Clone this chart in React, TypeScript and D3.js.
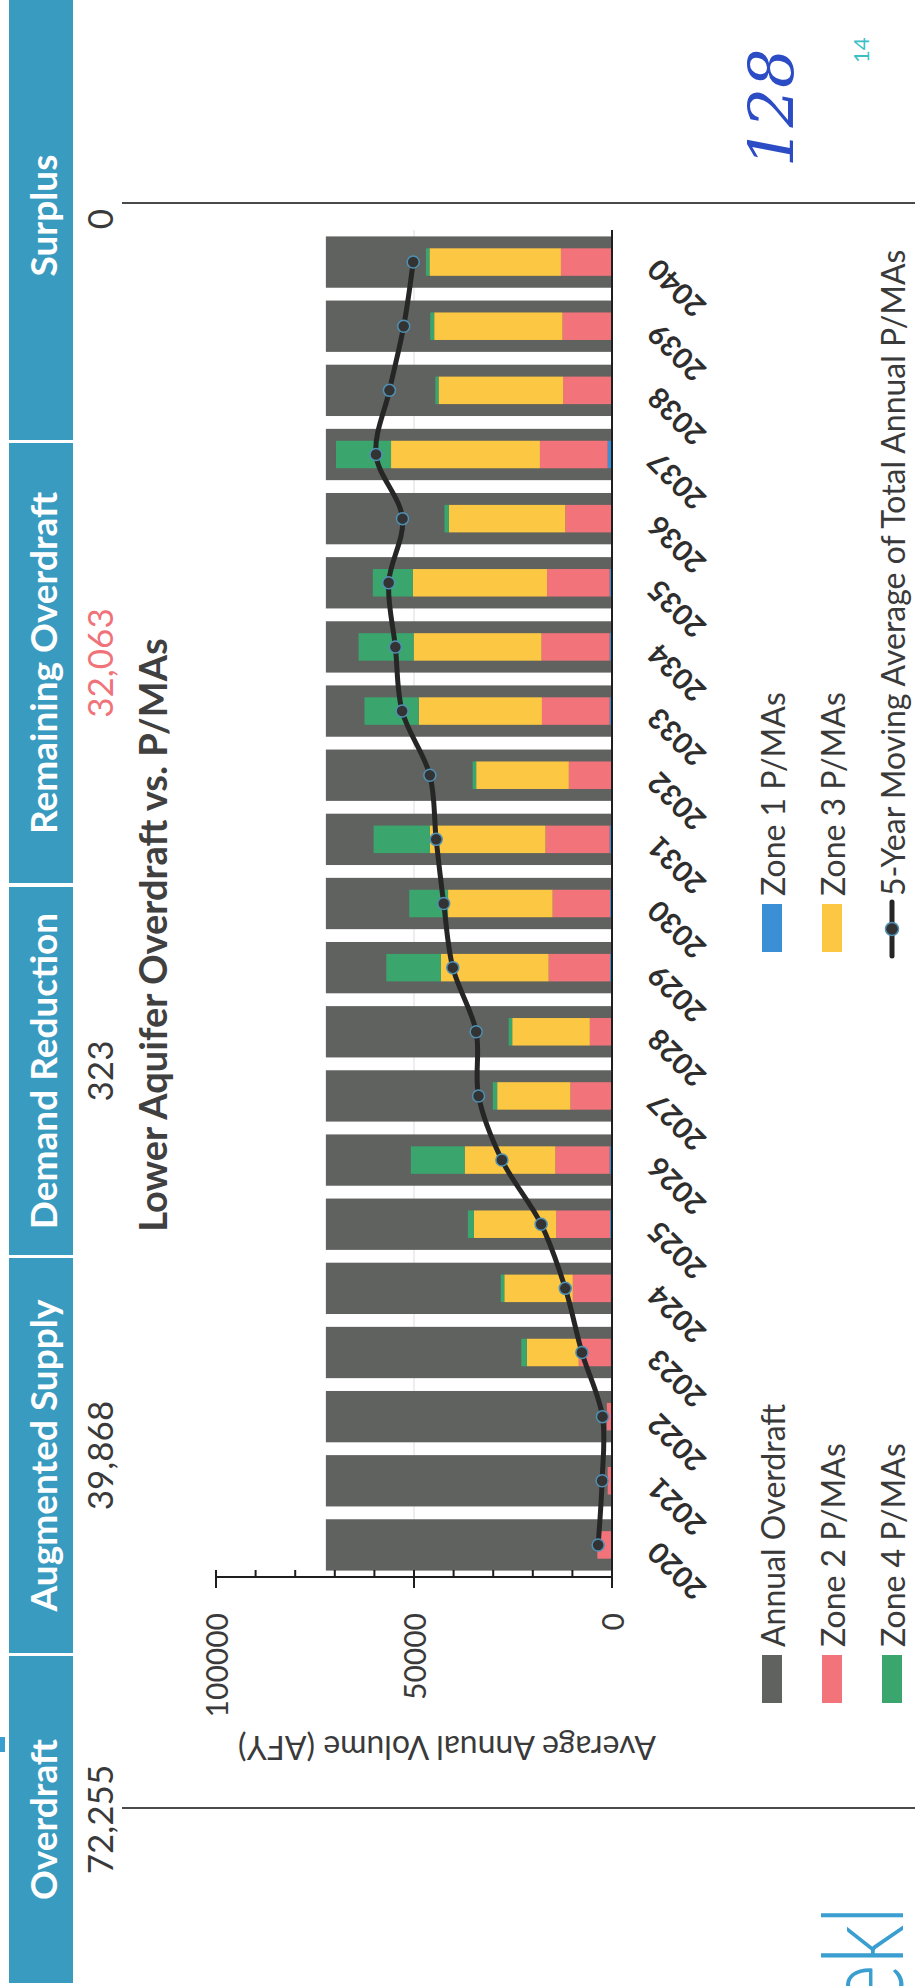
import { useEffect, useRef } from 'react';
import * as d3 from 'd3';

// page is scanned sideways: everything is drawn in an upright frame and then rotated -90deg
const PAGE_W = 1986;
const PAGE_H = 915;

const headerLabels = ['Overdraft', 'Augmented Supply', 'Demand Reduction', 'Remaining Overdraft', 'Surplus'];
const headerValues = ['72,255', '39,868', '323', '32,063', '0'];

const years = ['2020', '2021', '2022', '2023', '2024', '2025', '2026', '2027', '2028', '2029', '2030',
    '2031', '2032', '2033', '2034', '2035', '2036', '2037', '2038', '2039', '2040'];

const annualOverdraft = [72255, 72255, 72255, 72255, 72255, 72255, 72255, 72255, 72255, 72255, 72255,
    72255, 72255, 72255, 72255, 72255, 72255, 72255, 72255, 72255, 72255];
const zone1 = [0, 0, 0, 300, 300, 500, 600, 0, 0, 500, 500, 600, 0, 600, 600, 600, 0, 1100, 0, 0, 0];
const zone2 = [3700, 1100, 1300, 8100, 9600, 13600, 13700, 10500, 5600, 15500, 14500,
    16200, 10900, 17100, 17200, 15800, 11800, 17100, 12300, 12500, 12900];
const zone3 = [0, 0, 0, 13100, 17300, 20800, 22900, 18500, 19600, 27200, 26400,
    29200, 23400, 31100, 32300, 33900, 29400, 37600, 31500, 32400, 33200];
const zone4 = [0, 0, 0, 1400, 900, 1500, 13600, 1100, 900, 13800, 9800,
    14200, 900, 13700, 13900, 10100, 1100, 13900, 800, 1000, 900];
const movingAvg = [3500, 2500, 2400, 7600, 11800, 17900, 27800, 33700, 34300, 40200, 42500,
    44400, 46000, 53000, 54700, 56400, 52900, 59600, 56200, 52600, 50200];

const yTicks = [0, 50000, 100000];

const COLORS = {
    overdraft: '#5f625e',
    zone1: '#3b8fd4',
    zone2: '#f2737a',
    zone3: '#fcc843',
    zone4: '#3aa66e',
    header: '#3a9bc1',
    line: '#262626',
};

const FONT = "Lato, 'Open Sans', sans-serif";

const App = () => {
    const svgRef = useRef<SVGSVGElement>(null);

    useEffect(() => {
        const svg = d3.select(svgRef.current);
        svg.selectAll('*').remove();

        const g = svg.append('g')
            .attr('transform', `translate(0,${PAGE_W}) rotate(-90)`)
            .style('font-family', FONT);

        // header strip
        const boxes = [[3, 330], [333, 728], [731, 1099], [1103, 1543], [1546, 1995]];
        boxes.forEach(([a, b], i) => {
            g.append('rect')
                .attr('x', a).attr('y', 9)
                .attr('width', b - a).attr('height', 64)
                .attr('fill', COLORS.header);
            g.append('text')
                .attr('x', (a + b) / 2).attr('y', 42)
                .attr('text-anchor', 'middle')
                .attr('dominant-baseline', 'central')
                .attr('fill', '#fff')
                .style('font-size', '37px')
                .style('font-weight', '700')
                .text(headerLabels[i]);
            g.append('text')
                .attr('x', i === 4 ? 1767 : (a + b) / 2).attr('y', 99)
                .attr('text-anchor', 'middle')
                .attr('dominant-baseline', 'central')
                .attr('fill', i === 3 ? '#f0737a' : '#3a3a3a')
                .style('font-size', '35px')
                .text(headerValues[i]);
        });

        // separator lines
        [178, 1783].forEach(x => {
            g.append('line')
                .attr('x1', x).attr('x2', x)
                .attr('y1', 122).attr('y2', PAGE_H)
                .attr('stroke', '#4a4a4a')
                .attr('stroke-width', 2);
        });

        // chart title
        g.append('text')
            .attr('x', 1051).attr('y', 152)
            .attr('text-anchor', 'middle')
            .attr('dominant-baseline', 'central')
            .attr('fill', '#404040')
            .style('font-size', '38px')
            .style('font-weight', '700')
            .text('Lower Aquifer Overdraft vs. P/MAs');

        const x = d3.scaleBand()
            .domain(years)
            .range([409, 1756])
            .paddingInner(0.2)
            .paddingOuter(0.1);

        const y = d3.scaleLinear()
            .domain([0, 100000])
            .range([612, 216]);

        const cx = (d: string) => (x(d) ?? 0) + x.bandwidth() / 2;

        // gridline
        g.append('line')
            .attr('x1', 409).attr('x2', 1756)
            .attr('y1', y(50000)).attr('y2', y(50000))
            .attr('stroke', '#dcdcdc')
            .attr('stroke-width', 1);

        // annual overdraft bars
        g.append('g').selectAll('rect')
            .data(years)
            .join('rect')
            .attr('x', d => x(d) ?? 0)
            .attr('width', x.bandwidth())
            .attr('y', (d, i) => y(annualOverdraft[i]))
            .attr('height', (d, i) => y(0) - y(annualOverdraft[i]))
            .attr('fill', COLORS.overdraft);

        // stacked P/MA bars
        const table = years.map((yr, i) => ({
            year: yr, zone1: zone1[i], zone2: zone2[i], zone3: zone3[i], zone4: zone4[i],
        }));
        const keys = ['zone1', 'zone2', 'zone3', 'zone4'] as const;
        const stacked = d3.stack<any>().keys(keys as any)(table);
        const innerW = 27.5;

        stacked.forEach(layer => {
            g.append('g').selectAll('rect')
                .data(layer)
                .join('rect')
                .attr('x', d => cx(d.data.year) - innerW / 2)
                .attr('width', innerW)
                .attr('y', d => y(d[1]))
                .attr('height', d => Math.max(0, y(d[0]) - y(d[1])))
                .attr('fill', (COLORS as any)[layer.key]);
        });

        // category axis line
        g.append('line')
            .attr('x1', 398).attr('x2', 1756)
            .attr('y1', y(0)).attr('y2', y(0))
            .attr('stroke', '#1e1e1e')
            .attr('stroke-width', 2);

        // value axis
        g.append('line')
            .attr('x1', 409).attr('x2', 409)
            .attr('y1', y(100000)).attr('y2', y(0))
            .attr('stroke', '#1e1e1e')
            .attr('stroke-width', 2);

        d3.range(0, 100001, 10000).forEach(v => {
            const major = v % 50000 === 0;
            g.append('line')
                .attr('x1', major ? 398 : 409).attr('x2', 416)
                .attr('y1', y(v)).attr('y2', y(v))
                .attr('stroke', '#1e1e1e')
                .attr('stroke-width', 2);
        });

        yTicks.forEach(v => {
            g.append('text')
                .attr('x', 373).attr('y', y(v))
                .attr('text-anchor', 'end')
                .attr('dominant-baseline', 'central')
                .attr('fill', '#3a3a3a')
                .style('font-size', '30px')
                .text(v);
        });

        g.append('text')
            .attr('transform', `translate(238,447) rotate(-90)`)
            .attr('text-anchor', 'middle')
            .attr('dominant-baseline', 'central')
            .attr('fill', '#3a3a3a')
            .style('font-size', '32px')
            .text('Average Annual Volume (AFY)');

        // year labels
        years.forEach(yr => {
            g.append('text')
                .attr('transform', `translate(${cx(yr) - 3},652) rotate(-45)`)
                .attr('text-anchor', 'end')
                .attr('dominant-baseline', 'central')
                .attr('fill', '#2e2e2e')
                .style('font-size', '29px')
                .style('font-weight', '700')
                .text(yr);
        });

        // moving average line
        const line = d3.line<number>()
            .x((d, i) => cx(years[i]))
            .y(d => y(d))
            .curve(d3.curveCatmullRom.alpha(0.5));

        g.append('path')
            .datum(movingAvg)
            .attr('d', line)
            .attr('fill', 'none')
            .attr('stroke', COLORS.line)
            .attr('stroke-width', 5);

        g.append('g').selectAll('circle')
            .data(movingAvg)
            .join('circle')
            .attr('cx', (d, i) => cx(years[i]))
            .attr('cy', d => y(d))
            .attr('r', 6)
            .attr('fill', '#333')
            .attr('stroke', '#4f90b4')
            .attr('stroke-width', 1.5);

        // legend
        const legend = [
            { label: 'Annual Overdraft', color: COLORS.overdraft, col: 0, row: 0 },
            { label: 'Zone 2 P/MAs', color: COLORS.zone2, col: 0, row: 1 },
            { label: 'Zone 4 P/MAs', color: COLORS.zone4, col: 0, row: 2 },
            { label: 'Zone 1 P/MAs', color: COLORS.zone1, col: 1, row: 0 },
            { label: 'Zone 3 P/MAs', color: COLORS.zone3, col: 1, row: 1 },
            { label: '5-Year Moving Average of Total Annual P/MAs', color: null, col: 1, row: 2 },
        ];
        legend.forEach(item => {
            const lx = item.col === 0 ? 283 : 1034;
            const ly = 772 + item.row * 60;
            if (item.color) {
                g.append('rect')
                    .attr('x', lx).attr('y', ly - 10)
                    .attr('width', 48).attr('height', 20)
                    .attr('fill', item.color);
            } else {
                g.append('line')
                    .attr('x1', lx - 4).attr('x2', lx + 50)
                    .attr('y1', ly).attr('y2', ly)
                    .attr('stroke', COLORS.line)
                    .attr('stroke-width', 5)
                    .attr('stroke-linecap', 'round');
                g.append('circle')
                    .attr('cx', lx + 23).attr('cy', ly).attr('r', 6.5)
                    .attr('fill', '#333')
                    .attr('stroke', '#4f90b4')
                    .attr('stroke-width', 1.5);
            }
            g.append('text')
                .attr('x', lx + 56).attr('y', ly)
                .attr('dominant-baseline', 'central')
                .attr('fill', '#3a3a3a')
                .style('font-size', '32px')
                .text(item.label);
        });

        // scan marks: logo fragment (cut by the page edge), handwritten page number, stamp
        g.append('text')
            .attr('x', -22).attr('y', 903)
            .attr('textLength', 102)
            .attr('lengthAdjust', 'spacingAndGlyphs')
            .attr('fill', '#3a9fd0')
            .style('font-size', '112px')
            .style('font-weight', '300')
            .text('ekl');

        g.append('text')
            .attr('x', 1819).attr('y', 793)
            .attr('fill', '#2b4cc4')
            .style('font-family', "'DejaVu Serif', serif")
            .style('font-style', 'italic')
            .style('font-size', '62px')
            .text('128');

        g.append('text')
            .attr('x', 1923).attr('y', 869)
            .attr('fill', '#3cc0c8')
            .style('font-size', '22px')
            .text('14');

        g.append('rect')
            .attr('x', 234).attr('y', 0)
            .attr('width', 15).attr('height', 5)
            .attr('fill', '#3a9fd0');
    }, []);

    return (
        <svg
            ref={svgRef}
            width={PAGE_H}
            height={PAGE_W}
            style={{ position: 'absolute', left: 0, top: 0, background: '#fff' }}
        />
    );
};

export default App;
